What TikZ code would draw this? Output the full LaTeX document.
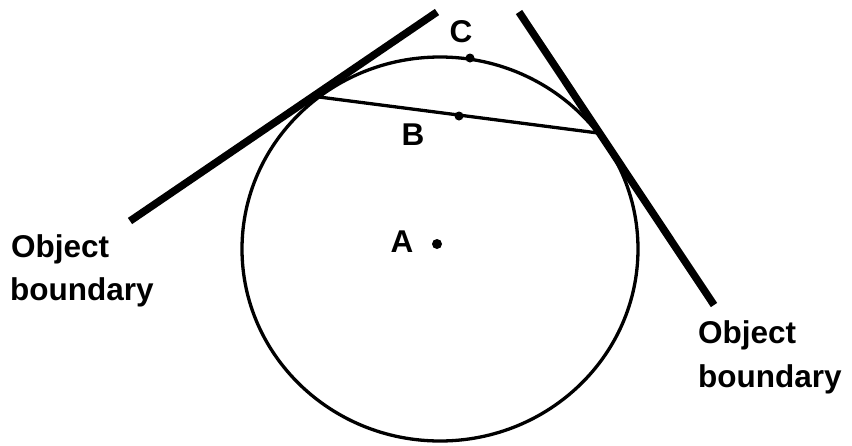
\documentclass[tikz,border=0pt]{standalone}
\usepackage{fontspec}
\setmainfont{Liberation Sans}
\begin{document}
\begin{tikzpicture}[x=1pt,y=-1pt,
  bnd/.style={line width=7.5pt,line cap=butt},
  thin/.style={line width=3.3pt},
  lbl/.style={font=\bfseries\fontsize{31.5}{36}\selectfont,inner sep=0pt},
  dotc/.style={circle,fill=black,inner sep=0pt,minimum size=9pt}]
\useasboundingbox (0,0) rectangle (852,445);
% circle
\draw[thin] (440,249) ellipse [x radius=198pt, y radius=192pt];
% boundaries
\coordinate (L1) at (130,221);
\coordinate (L2) at (437,12);
\coordinate (R1) at (519,12);
\coordinate (R2) at (714,305);
\draw[bnd] (L1) -- (L2);
\draw[bnd] (R1) -- (R2);
% chord
\coordinate (P) at (319,97);
\coordinate (Q) at (598,133);
\draw[thin] (P) -- (Q);
\node[dotc] (Bd) at (459,116) {};
\node[dotc] (Cd) at (470,58) {};
\node[dotc,minimum size=10pt] (Ad) at (437,244) {};
% labels
\node[lbl] (B) at (413,135) {B};
\node[lbl] (C) at (461,32) {C};
\node[lbl] (A) at (402,242) {A};
\node[lbl,anchor=base west] (o1) at (11,257) {Object};
\node[lbl,anchor=base west] (b1) at (10,300) {boundary};
\node[lbl,anchor=base west] (o2) at (698,343) {Object};
\node[lbl,anchor=base west] (b2) at (698,387) {boundary};
\end{tikzpicture}
\end{document}
